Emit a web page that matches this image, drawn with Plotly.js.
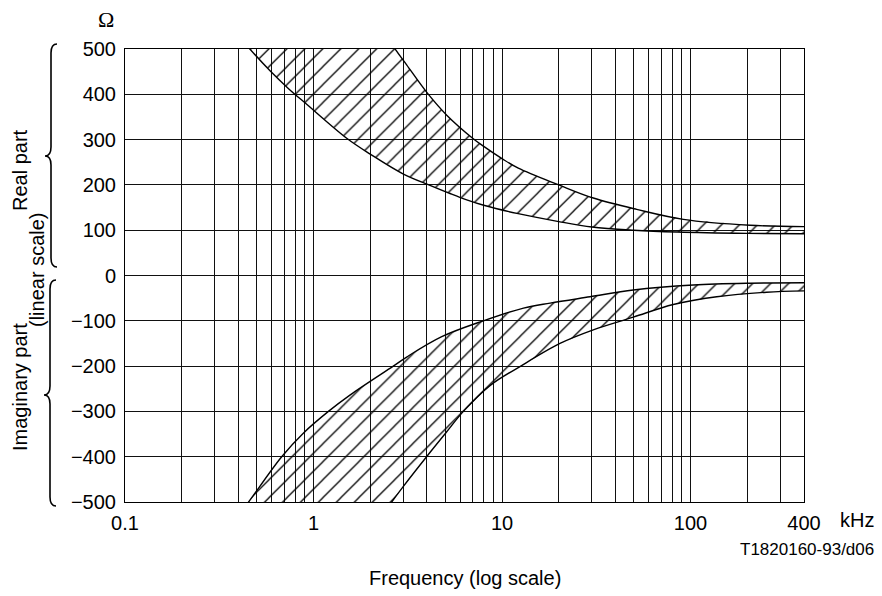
<!DOCTYPE html>
<html><head><meta charset="utf-8">
<script src="https://cdn.plot.ly/plotly-3.0.1.min.js"></script>
<style>html,body{margin:0;padding:0;background:#fff}</style>
</head><body><div id="chart" style="width:882px;height:596px"></div>
<script>
// ---- data (kHz, ohm) ----
const realUpperFreq = [2.2, 2.7, 3.12, 4.03, 5.09, 7.04, 8.0, 10, 12.2, 20, 30.5, 51.8, 91.6, 207, 400];
const realUpperOhm  = [560, 501, 465, 402, 354, 302, 285, 258, 237, 200, 171, 146, 124, 111, 108];
const realLowerFreq = [0.38, 0.457, 0.588, 0.735, 0.92, 1.5, 2.0, 3.0, 4.15, 5.3, 6.5, 8.0, 12, 20, 30, 50, 85, 200, 400];
const realLowerOhm  = [540, 501, 452, 413, 378, 303, 268, 224, 199, 181, 167, 155, 137, 119, 107, 100, 96, 93, 92];
const imagUpperFreq = [0.38, 0.46, 0.678, 0.883, 1.2, 1.56, 2.65, 3.12, 4.79, 7.96, 13, 18, 29.3, 49.7, 103.5, 207, 400];
const imagUpperOhm  = [-543, -496, -400, -348, -300, -264, -200, -180, -135, -100, -72, -61, -47, -32, -21, -17, -16];
const imagLowerFreq = [2.2, 2.6, 2.99, 3.98, 5.09, 6.24, 8.63, 12.45, 20.3, 30.5, 49.7, 81, 137.7, 253, 400];
const imagLowerOhm  = [-540, -500, -466, -400, -345, -300, -243, -201, -150, -120, -92, -64, -47, -37, -34];

const xGridValues = [0.1,0.2,0.3,0.4,0.5,0.6,0.7,0.8,0.9,1,2,3,4,5,6,7,8,9,10,20,30,40,50,60,70,80,90,100,200,300,400];
const xTickLabels = {0.1:'0.1', 1:'1', 10:'10', 100:'100', 400:'400'};
const yTickValues = [-500,-400,-300,-200,-100,0,100,200,300,400,500];

// ---- layout geometry (pixels) ----
const W = 882, H = 596, L = 125, R = 78, T = 49, B = 94;
const PW = W - L - R, PH = H - T - B;
const px = x => (x - L) / PW;
const py = y => (H - B - y) / PH;

function band(upF, upV, loF, loV) {
  return {
    x: upF.concat(loF.slice().reverse()),
    y: upV.concat(loV.slice().reverse()),
    type: 'scatter', mode: 'lines', fill: 'toself',
    line: {width: 0, color: 'rgba(0,0,0,0)'},
    fillcolor: 'rgba(0,0,0,0)',
    fillpattern: {shape: '/', size: 12.7, solidity: 0.1, fgcolor: '#000'},
    hoverinfo: 'skip', showlegend: false
  };
}
function curve(f, v) {
  return {x: f, y: v, type: 'scatter', mode: 'lines',
    line: {color: '#000', width: 1.4, shape: 'spline', smoothing: 1},
    hoverinfo: 'skip', showlegend: false};
}

const traces = [
  band(realUpperFreq, realUpperOhm, realLowerFreq, realLowerOhm),
  band(imagUpperFreq, imagUpperOhm, imagLowerFreq, imagLowerOhm),
  curve(realUpperFreq, realUpperOhm),
  curve(realLowerFreq, realLowerOhm),
  curve(imagUpperFreq, imagUpperOhm),
  curve(imagLowerFreq, imagLowerOhm)
];

function brace(xl, yt, yb, ym) {
  const tip = xl + 6, pt = xl - 6, r = 9;
  const P = (x, y) => px(x).toFixed(5) + ',' + py(y).toFixed(5);
  return 'M' + P(tip, yt) + ' Q' + P(xl, yt) + ' ' + P(xl, yt + r) +
    ' L' + P(xl, ym - r) + ' Q' + P(xl, ym) + ' ' + P(pt, ym) +
    ' Q' + P(xl, ym) + ' ' + P(xl, ym + r) +
    ' L' + P(xl, yb - r) + ' Q' + P(xl, yb) + ' ' + P(tip, yb);
}

const font = 'Liberation Sans, Arial, sans-serif';
const ann = (text, x, y, opts) => Object.assign({
  text, xref: 'paper', yref: 'paper', x: px(x), y: py(y), showarrow: false,
  xanchor: 'center', yanchor: 'middle', font: {family: font, size: 20, color: '#000'}
}, opts || {});

const layout = {
  width: W, height: H,
  margin: {l: L, r: R, t: T, b: B, pad: 0},
  paper_bgcolor: '#fff', plot_bgcolor: '#fff',
  showlegend: false,
  xaxis: {
    type: 'log', range: [Math.log10(0.1), Math.log10(400)],
    tickmode: 'array', tickvals: xGridValues,
    ticktext: xGridValues.map(v => xTickLabels[v] || ''),
    showgrid: true, gridcolor: '#111', gridwidth: 1,
    showline: true, mirror: true, linecolor: '#000', linewidth: 1,
    ticks: '', zeroline: false, ticklabelstandoff: 3,
    tickfont: {family: font, size: 20, color: '#000'}
  },
  yaxis: {
    range: [-500, 500], tickmode: 'array', tickvals: yTickValues,
    showgrid: true, gridcolor: '#111', gridwidth: 1,
    showline: true, mirror: true, linecolor: '#000', linewidth: 1,
    ticks: '', zeroline: false, ticklabelstandoff: 4,
    tickfont: {family: font, size: 20, color: '#000'}
  },
  shapes: [
    {type: 'path', xref: 'paper', yref: 'paper', path: brace(51, 44, 267, 156), line: {color: '#000', width: 1.6}},
    {type: 'path', xref: 'paper', yref: 'paper', path: brace(50, 280, 506, 395), line: {color: '#000', width: 1.6}}
  ],
  annotations: [
    ann('Ω', 106, 19, {font: {family: 'Liberation Serif, Times New Roman, serif', size: 22, color: '#000'}}),
    ann('kHz', 857, 520),
    ann('T1820160-93/d06', 876, 549, {xanchor: 'right', font: {family: font, size: 17, color: '#000'}}),
    ann('Frequency (log scale)', 464.5, 578),
    ann('Real part', 20, 170, {textangle: -90}),
    ann('(linear scale)', 37, 270, {textangle: -90}),
    ann('Imaginary part', 20, 387, {textangle: -90})
  ]
};

Plotly.newPlot('chart', traces, layout, {staticPlot: true, displayModeBar: false});
</script>
</body></html>
